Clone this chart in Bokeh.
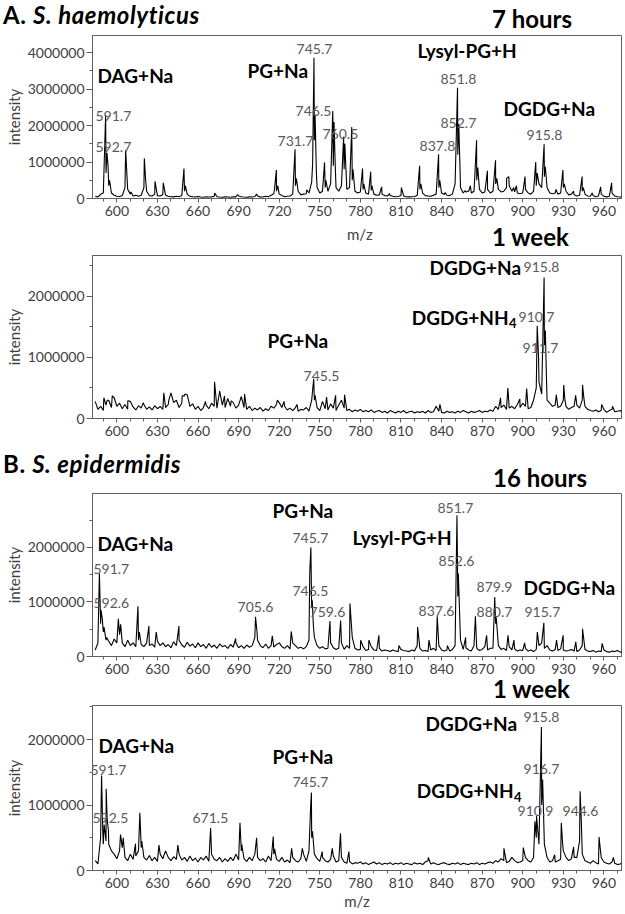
import numpy as np
from bokeh.plotting import figure
from bokeh.models import (Label, FixedTicker, SingleIntervalTicker,
                          BasicTickFormatter, Range1d, Div)
from bokeh.layouts import column
from bokeh.embed import file_html
from bokeh.resources import INLINE

# ---------------------------------------------------------------- data
x_tick_labels = [600, 630, 660, 690, 720, 750, 780, 810, 840, 870, 900, 930, 960]
x_minor_ticks = [590, 600, 610, 620, 630, 640, 650, 660, 670, 680, 690, 700, 710,
                 720, 730, 740, 750, 760, 770, 780, 790, 800, 810, 820, 830, 840,
                 850, 860, 870, 880, 890, 900, 910, 920, 930, 940, 950, 960, 970]

# baseline (noise) intensity, in thousands, sampled every 2 m/z from m/z 584
noise_start_mz = 584
noise_step_mz = 2

# ---- A. S. haemolyticus, 7 hours
p1_noise_k = [
    60, 45, 110, 150, 700, 350, 150, 90, 60, 55,          # 584
    80, 300, 250, 120, 70, 90, 60, 90, 300, 200,          # 604
    80, 70, 120, 80, 70, 110, 90, 60, 50, 45,             # 624
    60, 50, 80, 200, 120, 60, 50, 40, 55, 40,             # 644
    35, 50, 40, 45, 60, 50, 40, 35, 45, 40,               # 664
    35, 50, 45, 70, 50, 40, 35, 45, 40, 55,               # 684
    70, 45, 40, 60, 50, 90, 130, 200, 120, 80,            # 704
    50, 60, 70, 120, 350, 200, 100, 120, 130, 150,        # 724
    450, 1600, 300, 150, 200, 300, 200, 400, 900, 300,    # 744
    200, 350, 800, 250, 300, 500, 200, 150, 180, 250,     # 764
    150, 120, 220, 120, 90, 100, 120, 80, 70, 80,         # 784
    60, 50, 55, 80, 70, 50, 45, 50, 55, 80,               # 804
    250, 150, 80, 70, 60, 90, 120, 300, 150, 110,         # 824
    90, 80, 120, 400, 1200, 300, 150, 180, 200, 150,      # 844
    200, 500, 250, 150, 180, 250, 150, 200, 400, 250,     # 864
    180, 200, 300, 350, 200, 180, 150, 130, 150, 250,     # 884
    150, 120, 200, 350, 400, 300, 600, 300, 150, 130,     # 904
    150, 120, 150, 300, 200, 100, 120, 100, 70, 90,       # 924
    200, 120, 70, 60, 80, 50, 70, 120, 60, 45,            # 944
    60, 150, 70, 50, 40, 45,                              # 964
]
p1_peak_mz = [588.5, 591.7, 592.7, 593.5, 594.6, 606.5, 607.5, 610.5, 620.3, 621.3,
              628.2, 634.3, 649.6, 650.6, 672.3, 689.3, 703.3, 716.5, 717.9, 719.0,
              731.7, 732.7, 740.3, 744.7, 745.7, 746.5, 747.5, 753.5, 754.5, 759.6,
              760.5, 761.5, 767.6, 768.5, 773.6, 774.5, 781.6, 782.5, 787.6, 788.5,
              795.7, 801.6, 810.3, 823.8, 824.7, 837.8, 838.7, 842.5, 851.8, 852.7,
              853.6, 857.5, 861.3, 865.9, 866.8, 873.9, 879.9, 880.8, 888.1, 889.7,
              893.3, 895.3, 901.7, 909.6, 910.7, 915.8, 916.7, 924.6, 929.7, 930.7,
              937.5, 943.9, 944.8, 951.3, 957.6, 965.7]
p1_peak_k = [130, 2280, 1250, 900, 500, 1320, 600, 180, 1100, 500,
             470, 430, 820, 350, 150, 110, 120, 250, 780, 350,
             1350, 550, 240, 950, 3860, 2300, 700, 990, 500, 2400,
             2100, 800, 1690, 1500, 1960, 800, 820, 400, 730, 350,
             320, 130, 300, 900, 400, 1210, 500, 160, 3040, 2050,
             900, 220, 350, 1600, 850, 760, 1050, 550, 550, 600,
             300, 350, 600, 1000, 700, 1490, 870, 250, 780, 400,
             200, 600, 300, 150, 320, 430]

# ---- A. S. haemolyticus, 1 week
p2_noise_k = [
    280, 150, 200, 130, 220, 300, 180, 340, 200, 250,     # 584
    160, 230, 150, 280, 190, 140, 210, 170, 230, 150,     # 604
    190, 140, 210, 160, 200, 150, 180, 230, 420, 260,     # 624
    300, 180, 250, 370, 390, 200, 240, 150, 200, 130,     # 644
    180, 220, 160, 250, 200, 170, 450, 220, 180, 330,     # 664
    200, 260, 170, 220, 360, 180, 150, 200, 130, 170,     # 684
    140, 180, 120, 160, 130, 200, 170, 230, 260, 180,     # 704
    200, 140, 170, 130, 180, 120, 150, 140, 180, 120,     # 724
    300, 300, 180, 130, 280, 160, 140, 240, 170, 130,     # 744
    220, 300, 170, 130, 150, 110, 140, 120, 150, 110,     # 764
    130, 110, 140, 100, 120, 130, 100, 120, 90, 130,      # 784
    110, 90, 120, 100, 130, 90, 110, 120, 90, 110,        # 804
    100, 120, 90, 130, 100, 110, 200, 120, 100, 90,       # 824
    120, 100, 110, 90, 120, 100, 130, 110, 90, 120,       # 844
    100, 110, 130, 100, 120, 110, 140, 120, 200, 150,     # 864
    180, 220, 150, 170, 200, 160, 230, 180, 250, 200,     # 884
    160, 180, 300, 500, 600, 400, 1200, 300, 250, 200,    # 904
    220, 180, 200, 300, 200, 150, 180, 200, 220, 170,     # 924
    300, 200, 150, 130, 120, 140, 110, 130, 150, 100,     # 944
    130, 150, 110, 120, 130, 100,                         # 964
]
p2_peak_mz = [590.4, 592.9, 596.6, 608.1, 619.5, 634.7, 638.4, 648.3, 650.3, 665.5,
              672.2, 679.6, 684.5, 694.4, 718.6, 723.5, 733.1, 745.5, 746.5, 755.0,
              761.7, 768.3, 838.8, 883.6, 889.0, 897.9, 902.9, 910.7, 911.7, 915.8,
              916.7, 917.6, 924.8, 930.3, 931.2, 939.1, 944.2, 945.1, 958.3, 966.4]
p2_peak_k = [340, 300, 370, 290, 260, 420, 300, 370, 400, 280,
             600, 370, 290, 400, 300, 280, 230, 650, 380, 350,
             380, 390, 230, 340, 500, 320, 490, 1520, 1000, 2310,
             1440, 600, 390, 550, 300, 380, 550, 350, 230, 200]

# ---- B. S. epidermidis, 16 hours
p3_noise_k = [
    120, 250, 600, 450, 300, 280, 200, 320, 250, 400,     # 584
    250, 180, 300, 200, 250, 180, 300, 220, 180, 250,     # 604
    200, 230, 170, 280, 200, 250, 180, 220, 160, 270,     # 624
    200, 300, 210, 170, 260, 190, 230, 160, 250, 180,     # 644
    220, 150, 240, 170, 210, 150, 230, 180, 200, 150,     # 664
    220, 170, 250, 160, 200, 150, 210, 170, 200, 350,     # 684
    300, 200, 160, 230, 150, 200, 170, 220, 250, 180,     # 704
    150, 200, 140, 250, 200, 150, 170, 140, 180, 300,     # 724
    900, 350, 200, 150, 180, 140, 150, 250, 160, 130,     # 744
    150, 250, 130, 200, 150, 350, 150, 120, 130, 180,     # 764
    110, 130, 180, 120, 110, 150, 100, 120, 110, 90,      # 784
    120, 100, 90, 130, 110, 100, 90, 120, 100, 200,       # 804
    150, 100, 110, 90, 120, 150, 110, 200, 120, 100,      # 824
    120, 100, 130, 200, 1100, 300, 130, 160, 120, 100,    # 844
    200, 150, 110, 130, 180, 120, 150, 150, 600, 200,     # 864
    130, 150, 110, 180, 120, 140, 100, 120, 110, 150,     # 884
    100, 120, 90, 130, 200, 250, 150, 200, 120, 100,      # 904
    130, 110, 140, 120, 100, 110, 130, 100, 90, 120,      # 924
    200, 130, 100, 90, 110, 80, 100, 90, 120, 90,         # 944
    80, 100, 90, 110, 80, 90,                             # 964
]
p3_peak_mz = [587.1, 588.3, 589.2, 590.5, 592.5, 601.1, 602.8, 615.6, 616.6, 623.7,
              629.1, 645.9, 687.8, 702.5, 703.6, 714.9, 728.9, 742.6, 743.4, 744.4,
              745.3, 757.5, 765.4, 772.3, 780.2, 786.3, 793.7, 808.5, 822.3, 830.7,
              836.8, 844.3, 851.4, 852.4, 853.2, 857.8, 865.0, 873.3, 879.3, 880.4,
              889.1, 893.5, 901.4, 910.8, 915.6, 925.0, 929.9, 939.2, 944.2, 958.7]
p3_peak_k = [1520, 850, 700, 540, 350, 690, 590, 920, 450, 560,
             450, 560, 330, 730, 450, 380, 460, 1550, 2000, 1030,
             550, 650, 660, 970, 300, 300, 390, 200, 540, 300,
             740, 200, 2590, 1520, 900, 350, 740, 390, 1090, 720,
             390, 300, 250, 450, 620, 300, 390, 270, 510, 240]

# ---- B. S. epidermidis, 1 week
p4_noise_k = [
    150, 100, 500, 400, 450, 400, 300, 250, 180, 300,     # 584
    350, 200, 150, 250, 170, 220, 300, 350, 200, 160,     # 604
    230, 150, 200, 140, 250, 180, 300, 200, 150, 210,     # 624
    170, 250, 160, 200, 140, 220, 150, 190, 130, 200,     # 644
    160, 220, 140, 250, 170, 150, 200, 130, 180, 140,     # 664
    200, 150, 250, 160, 300, 180, 140, 200, 150, 250,     # 684
    200, 150, 180, 130, 220, 150, 250, 170, 140, 200,     # 704
    130, 160, 120, 200, 150, 130, 180, 250, 140, 300,     # 724
    500, 250, 180, 140, 200, 150, 130, 170, 220, 130,     # 744
    150, 200, 130, 110, 140, 100, 120, 110, 130, 100,     # 764
    120, 90, 110, 130, 100, 120, 90, 110, 100, 120,       # 784
    90, 110, 100, 120, 90, 110, 100, 90, 120, 100,        # 804
    110, 90, 130, 150, 100, 120, 100, 90, 110, 120,       # 824
    100, 90, 110, 100, 120, 90, 110, 100, 90, 110,        # 844
    100, 120, 90, 110, 100, 120, 130, 110, 150, 130,      # 864
    180, 150, 120, 140, 200, 150, 120, 130, 150, 200,     # 884
    150, 130, 200, 500, 400, 1000, 400, 200, 130, 150,    # 904
    130, 150, 170, 300, 200, 150, 180, 200, 200, 450,     # 924
    250, 150, 130, 110, 150, 120, 100, 200, 130, 110,     # 944
    100, 130, 110, 90, 100, 120,                          # 964
]
p4_peak_mz = [588.7, 589.6, 590.6, 592.1, 592.8, 593.8, 602.7, 604.7, 613.8, 617.0,
              618.4, 631.1, 645.1, 669.3, 691.0, 692.3, 703.3, 715.6, 716.6, 729.2,
              737.1, 743.2, 743.8, 744.6, 751.8, 759.2, 765.3, 771.5, 830.2, 886.1,
              900.4, 909.0, 910.2, 913.8, 914.7, 915.6, 923.6, 928.5, 929.5, 937.6,
              942.4, 943.3, 956.4, 967.0]
p4_peak_k = [1450, 600, 700, 1250, 800, 600, 550, 500, 410, 880,
             450, 390, 390, 650, 730, 400, 500, 520, 330, 340,
             340, 960, 1190, 600, 290, 340, 570, 290, 200, 340,
             350, 750, 830, 2190, 1390, 700, 240, 730, 400, 360,
             1210, 750, 510, 200]

# ------------------------------------------------------------- styling
FONT = "Lato"
AXIS_COLOR = "#5f5f5f"
TICK_TEXT = "#404040"
NUM_COLOR = "#5a5a5a"
X_START, X_END = 582, 973
FIG_W = 623


def spectrum(noise_k, peak_mz, peak_k):
    base_mz = noise_start_mz + noise_step_mz * np.arange(len(noise_k))
    mz = np.concatenate([base_mz, np.asarray(peak_mz, float)])
    inten = np.concatenate([np.asarray(noise_k, float), np.asarray(peak_k, float)]) * 1000
    order = np.argsort(mz, kind="stable")
    return mz[order], inten[order]


def make_fig(height, bottom, ymax, noise_k, peak_mz, peak_k, xlabel=None):
    p = figure(width=FIG_W, height=height, output_backend="svg", toolbar_location=None,
               x_range=Range1d(X_START, X_END), y_range=Range1d(0, ymax),
               min_border_left=92, min_border_right=2,
               min_border_top=1, min_border_bottom=bottom)
    p.xgrid.visible = False
    p.ygrid.visible = False
    p.background_fill_color = "white"
    p.border_fill_color = "white"
    p.outline_line_color = AXIS_COLOR
    p.outline_line_width = 1

    xa = p.xaxis[0]
    xa.ticker = FixedTicker(ticks=x_tick_labels, minor_ticks=x_minor_ticks)
    xa.major_tick_out = 4
    xa.major_tick_in = 0
    xa.minor_tick_out = 3
    xa.minor_tick_in = 0
    xa.axis_line_color = AXIS_COLOR
    xa.major_tick_line_color = AXIS_COLOR
    xa.minor_tick_line_color = AXIS_COLOR
    xa.major_label_standoff = 3
    xa.major_label_text_font = FONT
    xa.major_label_text_font_size = "14px"
    xa.major_label_text_color = TICK_TEXT
    if xlabel:
        xa.axis_label = xlabel
        xa.axis_label_standoff = 1
        xa.axis_label_text_font = FONT
        xa.axis_label_text_font_size = "15px"
        xa.axis_label_text_font_style = "normal"
        xa.axis_label_text_color = TICK_TEXT

    ya = p.yaxis[0]
    ya.ticker = SingleIntervalTicker(interval=1000000, num_minor_ticks=2)
    ya.formatter = BasicTickFormatter(use_scientific=False)
    ya.major_tick_out = 6
    ya.major_tick_in = 0
    ya.minor_tick_out = 3
    ya.minor_tick_in = 0
    ya.axis_line_color = AXIS_COLOR
    ya.major_tick_line_color = AXIS_COLOR
    ya.minor_tick_line_color = AXIS_COLOR
    ya.major_label_standoff = 2
    ya.major_label_text_font = FONT
    ya.major_label_text_font_size = "14px"
    ya.major_label_text_color = TICK_TEXT
    ya.axis_label = "intensity"
    ya.axis_label_standoff = 2
    ya.axis_label_text_font = FONT
    ya.axis_label_text_font_size = "15px"
    ya.axis_label_text_font_style = "normal"
    ya.axis_label_text_color = TICK_TEXT

    mz, inten = spectrum(noise_k, peak_mz, peak_k)
    p.line(mz, inten, line_color="black", line_width=1.1)
    return p


def add_text(p, text, x, y, size, color="black", style="normal", align="left"):
    p.add_layout(Label(x=x, y=y, text=text, text_font=FONT, text_font_size=size,
                       text_font_style=style, text_color=color, text_align=align,
                       text_baseline="middle"))


def add_numbers(p, items):
    for t, x, y in items:
        add_text(p, t, x, y, "14px", color=NUM_COLOR)


def add_bold(p, items):
    for t, x, y in items:
        add_text(p, t, x, y, "19px", style="bold")


def add_nh4(p, x, y, y_sub):
    add_text(p, "DGDG+NH", x, y, "19px", style="bold", align="right")
    add_text(p, "4", x + 0.3, y_sub, "13px", style="bold")


def header(height, items):
    """A strip of text above a panel: (html, left, top, size, extra css)."""
    spans = []
    for html, left, top, size, css in items:
        spans.append(
            f'<span style="position:absolute;left:{left}px;top:{top}px;'
            f'font-family:{FONT};font-size:{size}px;line-height:{size}px;'
            f'white-space:nowrap;{css}">{html}</span>')
    inner = (f'<div style="position:relative;width:{FIG_W}px;height:{height}px;'
             f'overflow:visible;">' + "".join(spans) + "</div>")
    return Div(text=inner, width=FIG_W, height=height, margin=(0, 0, 0, 0))


BOLD = "font-weight:bold;color:#000;"
SPECIES = BOLD + "letter-spacing:0.6px;"
AXT = f"color:{TICK_TEXT};"

# ---------------------------------------------------------- panel 1
h1 = header(34, [("A. <i>S. haemolyticus</i>", 3, 3, 24, SPECIES),
                 ("7 hours", 492, 7, 24, BOLD)])
f1 = make_fig(189, 25, 4.47e6, p1_noise_k, p1_peak_mz, p1_peak_k)
add_numbers(f1, [("591.7", 584.2, 2.27e6), ("592.7", 584.2, 1.40e6),
                 ("731.7", 718.8, 1.59e6), ("745.7", 732.8, 4.11e6),
                 ("746.5", 732.1, 2.41e6), ("760.5", 752.0, 1.78e6),
                 ("837.8", 823.7, 1.45e6), ("851.8", 839.2, 3.29e6),
                 ("852.7", 839.2, 2.08e6), ("915.8", 902.8, 1.73e6)])
add_bold(f1, [("DAG+Na", 585.7, 3.37e6), ("PG+Na", 696.6, 3.51e6),
              ("Lysyl-PG+H", 822.2, 4.05e6), ("DGDG+Na", 885.8, 2.47e6)])

# ---------------------------------------------------------- panel 2
h2 = header(31, [("m/z", 347, 4, 15, AXT),
                 ("1 week", 492, 2, 24, BOLD)])
f2 = make_fig(189, 25, 2.67e6, p2_noise_k, p2_peak_mz, p2_peak_k)
add_numbers(f2, [("745.5", 738.0, 0.70e6), ("915.8", 900.6, 2.48e6),
                 ("910.7", 896.9, 1.66e6), ("911.7", 899.9, 1.16e6)])
add_bold(f2, [("PG+Na", 711.4, 1.28e6), ("DGDG+Na", 831.1, 2.48e6)])
add_nh4(f2, 889.5, 1.66e6, 1.56e6)

# ---------------------------------------------------------- panel 3
h3 = header(49, [("B. <i>S. epidermidis</i>", 3, 9, 24, SPECIES),
                 ("16 hours", 493, 23, 24, BOLD)])
f3 = make_fig(189, 25, 2.99e6, p3_noise_k, p3_peak_mz, p3_peak_k)
add_numbers(f3, [("591.7", 582.7, 1.61e6), ("592.6", 582.7, 0.99e6),
                 ("705.6", 689.2, 0.90e6), ("745.7", 729.8, 2.18e6),
                 ("746.5", 729.8, 1.21e6), ("759.6", 742.4, 0.81e6),
                 ("851.7", 837.0, 2.73e6), ("852.6", 837.8, 1.76e6),
                 ("837.6", 823.0, 0.84e6), ("879.9", 865.9, 1.27e6),
                 ("880.7", 865.9, 0.81e6), ("915.7", 901.3, 0.81e6)])
add_bold(f3, [("DAG+Na", 585.7, 2.07e6), ("PG+Na", 715.1, 2.68e6),
              ("Lysyl-PG+H", 774.2, 2.18e6), ("DGDG+Na", 900.6, 1.27e6)])

# ---------------------------------------------------------- panel 4
h4 = header(23, [("1 week", 493, -4, 24, BOLD)])
f4 = make_fig(208, 39, 2.52e6, p4_noise_k, p4_peak_mz, p4_peak_k, xlabel="m/z")
add_numbers(f4, [("591.7", 580.5, 1.54e6), ("592.5", 582.0, 0.80e6),
                 ("671.5", 655.9, 0.80e6), ("745.7", 729.8, 1.35e6),
                 ("915.8", 900.6, 2.34e6), ("916.7", 900.6, 1.55e6),
                 ("910.9", 896.2, 0.91e6), ("944.6", 929.4, 0.91e6)])
add_bold(f4, [("DAG+Na", 586.4, 1.91e6), ("PG+Na", 715.1, 1.74e6),
              ("DGDG+Na", 828.2, 2.25e6)])
add_nh4(f4, 893.2, 1.22e6, 1.12e6)

layout = column(h1, f1, h2, f2, h3, f3, h4, f4, spacing=0)
open("out.html", "w").write(file_html(layout, INLINE))
